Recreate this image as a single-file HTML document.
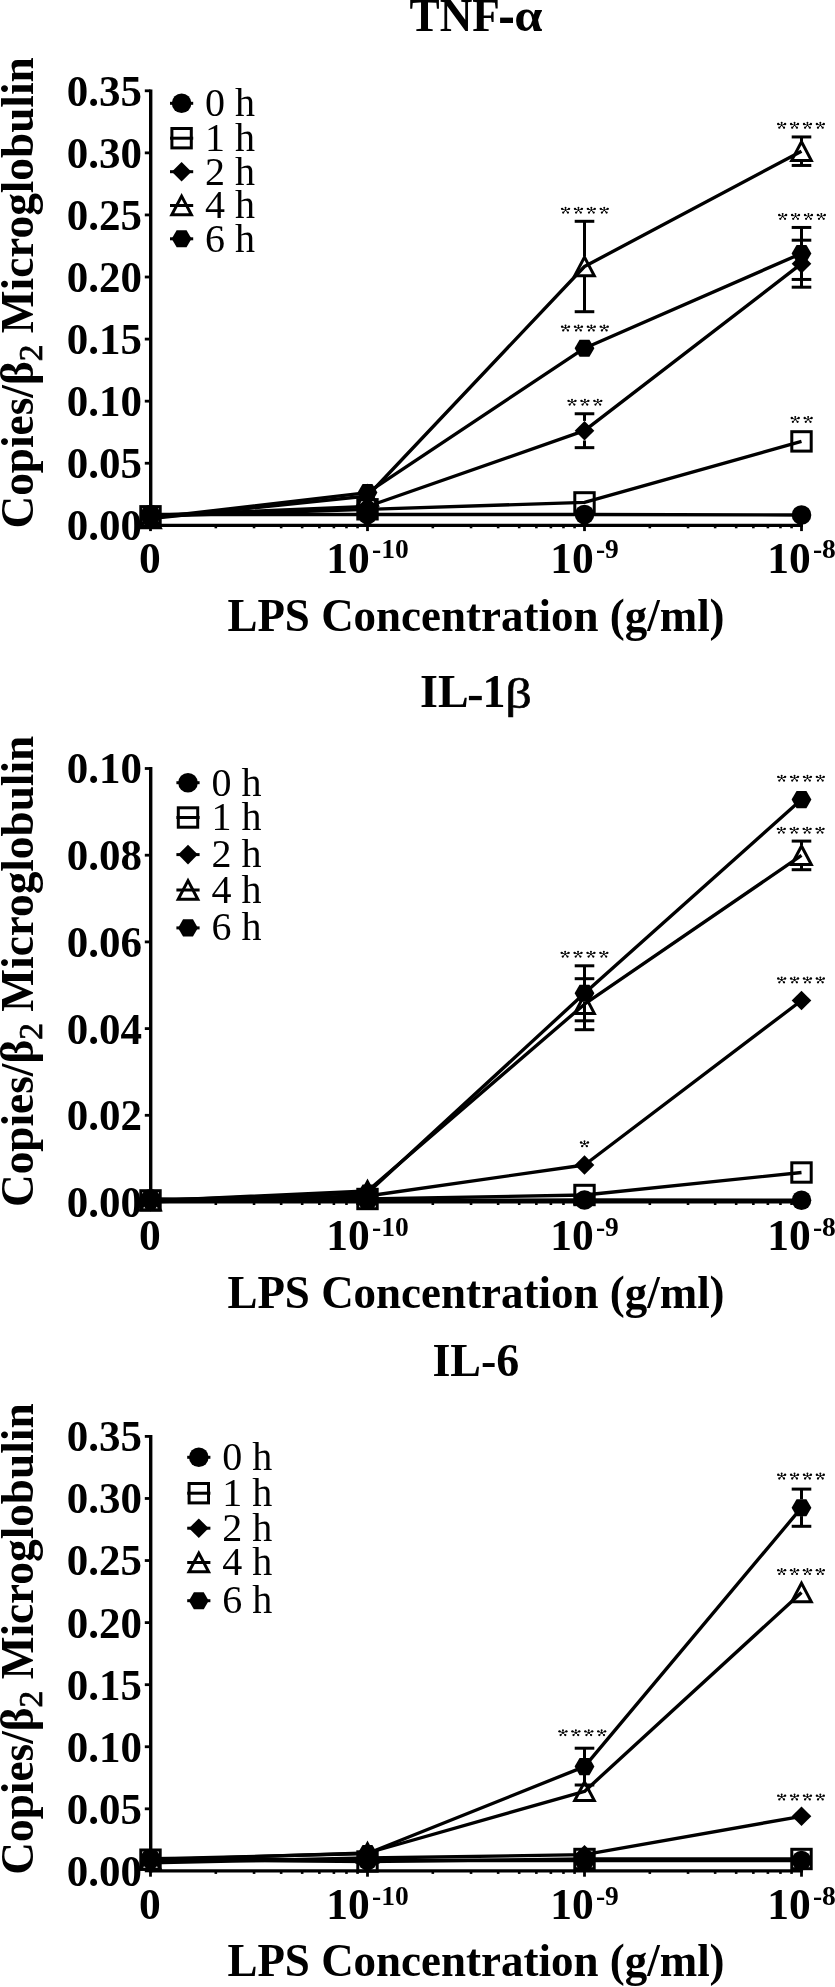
<!DOCTYPE html>
<html><head><meta charset="utf-8"><style>
html,body{margin:0;padding:0;background:#fff;}
svg{display:block;will-change:transform;}
text{font-family:'Liberation Serif',serif;fill:#000;}
</style></head><body>
<svg width="835" height="1987" viewBox="0 0 835 1987">
<defs><g id="ast" stroke="#000" stroke-width="0.95" fill="#000" stroke-linecap="round">
<line x1="0" y1="0.2" x2="0" y2="-2.3"/><line x1="0" y1="0.2" x2="-3.3" y2="-1.2"/><line x1="0" y1="0.2" x2="3.3" y2="-1.2"/><line x1="0" y1="0.2" x2="-2.3" y2="2.45"/><line x1="0" y1="0.2" x2="2.3" y2="2.45"/>
<circle cx="0" cy="-2.45" r="0.95" stroke="none"/><circle cx="-3.45" cy="-1.25" r="1.2" stroke="none"/><circle cx="3.45" cy="-1.25" r="1.2" stroke="none"/><circle cx="-2.35" cy="2.5" r="1.15" stroke="none"/><circle cx="2.35" cy="2.5" r="1.15" stroke="none"/>
</g></defs>
<rect width="835" height="1987" fill="#fff"/>
<line x1="150.7" y1="89.4" x2="150.7" y2="526.9" stroke="#000" stroke-width="3.4"/>
<line x1="144.8" y1="525.3" x2="150.5" y2="525.3" stroke="#000" stroke-width="2.8"/>
<text transform="translate(142 540.2) scale(1 1.05)" font-size="43" font-weight="bold" text-anchor="end">0.00</text>
<line x1="144.8" y1="463.23" x2="150.5" y2="463.23" stroke="#000" stroke-width="2.8"/>
<text transform="translate(142 478.13) scale(1 1.05)" font-size="43" font-weight="bold" text-anchor="end">0.05</text>
<line x1="144.8" y1="401.16" x2="150.5" y2="401.16" stroke="#000" stroke-width="2.8"/>
<text transform="translate(142 416.06) scale(1 1.05)" font-size="43" font-weight="bold" text-anchor="end">0.10</text>
<line x1="144.8" y1="339.09" x2="150.5" y2="339.09" stroke="#000" stroke-width="2.8"/>
<text transform="translate(142 353.99) scale(1 1.05)" font-size="43" font-weight="bold" text-anchor="end">0.15</text>
<line x1="144.8" y1="277.01" x2="150.5" y2="277.01" stroke="#000" stroke-width="2.8"/>
<text transform="translate(142 291.91) scale(1 1.05)" font-size="43" font-weight="bold" text-anchor="end">0.20</text>
<line x1="144.8" y1="214.94" x2="150.5" y2="214.94" stroke="#000" stroke-width="2.8"/>
<text transform="translate(142 229.84) scale(1 1.05)" font-size="43" font-weight="bold" text-anchor="end">0.25</text>
<line x1="144.8" y1="152.87" x2="150.5" y2="152.87" stroke="#000" stroke-width="2.8"/>
<text transform="translate(142 167.77) scale(1 1.05)" font-size="43" font-weight="bold" text-anchor="end">0.30</text>
<line x1="144.8" y1="90.8" x2="150.5" y2="90.8" stroke="#000" stroke-width="2.8"/>
<text transform="translate(142 105.7) scale(1 1.05)" font-size="43" font-weight="bold" text-anchor="end">0.35</text>
<line x1="149" y1="525.3" x2="803" y2="525.3" stroke="#000" stroke-width="3.2"/>
<line x1="150.5" y1="525.3" x2="150.5" y2="531.1" stroke="#000" stroke-width="2.8"/>
<line x1="367.5" y1="525.3" x2="367.5" y2="531.1" stroke="#000" stroke-width="2.8"/>
<line x1="584.5" y1="525.3" x2="584.5" y2="531.1" stroke="#000" stroke-width="2.8"/>
<line x1="801.5" y1="525.3" x2="801.5" y2="531.1" stroke="#000" stroke-width="2.8"/>
<line x1="215.82" y1="525.3" x2="215.82" y2="528.3" stroke="#000" stroke-width="2.6"/>
<line x1="254.04" y1="525.3" x2="254.04" y2="528.3" stroke="#000" stroke-width="2.6"/>
<line x1="281.15" y1="525.3" x2="281.15" y2="528.3" stroke="#000" stroke-width="2.6"/>
<line x1="302.18" y1="525.3" x2="302.18" y2="528.3" stroke="#000" stroke-width="2.6"/>
<line x1="319.36" y1="525.3" x2="319.36" y2="528.3" stroke="#000" stroke-width="2.6"/>
<line x1="333.89" y1="525.3" x2="333.89" y2="528.3" stroke="#000" stroke-width="2.6"/>
<line x1="346.47" y1="525.3" x2="346.47" y2="528.3" stroke="#000" stroke-width="2.6"/>
<line x1="357.57" y1="525.3" x2="357.57" y2="528.3" stroke="#000" stroke-width="2.6"/>
<line x1="432.82" y1="525.3" x2="432.82" y2="528.3" stroke="#000" stroke-width="2.6"/>
<line x1="471.04" y1="525.3" x2="471.04" y2="528.3" stroke="#000" stroke-width="2.6"/>
<line x1="498.15" y1="525.3" x2="498.15" y2="528.3" stroke="#000" stroke-width="2.6"/>
<line x1="519.18" y1="525.3" x2="519.18" y2="528.3" stroke="#000" stroke-width="2.6"/>
<line x1="536.36" y1="525.3" x2="536.36" y2="528.3" stroke="#000" stroke-width="2.6"/>
<line x1="550.89" y1="525.3" x2="550.89" y2="528.3" stroke="#000" stroke-width="2.6"/>
<line x1="563.47" y1="525.3" x2="563.47" y2="528.3" stroke="#000" stroke-width="2.6"/>
<line x1="574.57" y1="525.3" x2="574.57" y2="528.3" stroke="#000" stroke-width="2.6"/>
<line x1="649.82" y1="525.3" x2="649.82" y2="528.3" stroke="#000" stroke-width="2.6"/>
<line x1="688.04" y1="525.3" x2="688.04" y2="528.3" stroke="#000" stroke-width="2.6"/>
<line x1="715.15" y1="525.3" x2="715.15" y2="528.3" stroke="#000" stroke-width="2.6"/>
<line x1="736.18" y1="525.3" x2="736.18" y2="528.3" stroke="#000" stroke-width="2.6"/>
<line x1="753.36" y1="525.3" x2="753.36" y2="528.3" stroke="#000" stroke-width="2.6"/>
<line x1="767.89" y1="525.3" x2="767.89" y2="528.3" stroke="#000" stroke-width="2.6"/>
<line x1="780.47" y1="525.3" x2="780.47" y2="528.3" stroke="#000" stroke-width="2.6"/>
<line x1="791.57" y1="525.3" x2="791.57" y2="528.3" stroke="#000" stroke-width="2.6"/>
<text x="149.9" y="572.7" font-size="43.5" font-weight="bold" text-anchor="middle" >0</text>
<text x="367.5" y="572.7" font-size="43.5" font-weight="bold" text-anchor="middle">10<tspan dx="2.2" dy="-14.4" font-size="27.5">-10</tspan></text>
<text x="584.5" y="572.7" font-size="43.5" font-weight="bold" text-anchor="middle">10<tspan dx="2.2" dy="-14.4" font-size="27.5">-9</tspan></text>
<text x="801.5" y="572.7" font-size="43.5" font-weight="bold" text-anchor="middle">10<tspan dx="2.2" dy="-14.4" font-size="27.5">-8</tspan></text>
<text transform="translate(476.0 630.8) scale(1 1.03)" font-size="45" font-weight="bold" text-anchor="middle">LPS Concentration (g/ml)</text>
<text transform="translate(409.6 31.4) scale(0.982 1)" font-size="46" font-weight="bold">TNF</text><rect x="500.1" y="17.6" width="12.9" height="5.4" fill="#000"/><text transform="translate(514.2 31.4) scale(1.1 1)" font-size="46" font-weight="bold">α</text>
<text transform="translate(32.9 292.9) rotate(-90) scale(1 1.035)" x="0" y="0" font-size="45.3" font-weight="bold" text-anchor="middle">Copies/β<tspan font-weight="normal" font-size="33.5" dy="9.2" stroke="#000" stroke-width="0.7">2</tspan><tspan dy="-9.2"> Microglobulin</tspan></text>
<polyline points="150.5,514.5 367.5,514.5 584.5,514.5 801.5,515" fill="none" stroke="#000" stroke-width="3.35" stroke-linejoin="round"/>
<polyline points="150.5,516.3 367.5,509.3 584.5,502.4 801.5,441.4" fill="none" stroke="#000" stroke-width="3.35" stroke-linejoin="round"/>
<polyline points="150.5,515.5 367.5,506.5 584.5,430.7 801.5,263.7" fill="none" stroke="#000" stroke-width="3.35" stroke-linejoin="round"/>
<polyline points="150.5,518.6 367.5,496 584.5,266.5 801.5,151.2" fill="none" stroke="#000" stroke-width="3.35" stroke-linejoin="round"/>
<polyline points="150.5,518 367.5,492.6 584.5,348.2 801.5,253.45" fill="none" stroke="#000" stroke-width="3.35" stroke-linejoin="round"/>
<line x1="584.5" y1="413.75" x2="584.5" y2="420.9" stroke="#000" stroke-width="3.0"/>
<line x1="584.5" y1="440.5" x2="584.5" y2="447.65" stroke="#000" stroke-width="3.0"/>
<line x1="574.7" y1="413.75" x2="594.3" y2="413.75" stroke="#000" stroke-width="3.0"/>
<line x1="574.7" y1="447.65" x2="594.3" y2="447.65" stroke="#000" stroke-width="3.0"/>
<line x1="801.5" y1="240.2" x2="801.5" y2="253.9" stroke="#000" stroke-width="3.0"/>
<line x1="801.5" y1="273.5" x2="801.5" y2="287.2" stroke="#000" stroke-width="3.0"/>
<line x1="791.7" y1="240.2" x2="811.3" y2="240.2" stroke="#000" stroke-width="3.0"/>
<line x1="791.7" y1="287.2" x2="811.3" y2="287.2" stroke="#000" stroke-width="3.0"/>
<line x1="584.5" y1="221.3" x2="584.5" y2="256.5" stroke="#000" stroke-width="3.0"/>
<line x1="584.5" y1="276.5" x2="584.5" y2="311.7" stroke="#000" stroke-width="3.0"/>
<line x1="574.7" y1="221.3" x2="594.3" y2="221.3" stroke="#000" stroke-width="3.0"/>
<line x1="574.7" y1="311.7" x2="594.3" y2="311.7" stroke="#000" stroke-width="3.0"/>
<line x1="801.5" y1="136.95" x2="801.5" y2="141.2" stroke="#000" stroke-width="3.0"/>
<line x1="801.5" y1="161.2" x2="801.5" y2="165.45" stroke="#000" stroke-width="3.0"/>
<line x1="791.7" y1="136.95" x2="811.3" y2="136.95" stroke="#000" stroke-width="3.0"/>
<line x1="791.7" y1="165.45" x2="811.3" y2="165.45" stroke="#000" stroke-width="3.0"/>
<line x1="801.5" y1="227.45" x2="801.5" y2="245.05" stroke="#000" stroke-width="3.0"/>
<line x1="801.5" y1="261.85" x2="801.5" y2="279.45" stroke="#000" stroke-width="3.0"/>
<line x1="791.7" y1="227.45" x2="811.3" y2="227.45" stroke="#000" stroke-width="3.0"/>
<line x1="791.7" y1="279.45" x2="811.3" y2="279.45" stroke="#000" stroke-width="3.0"/>
<circle cx="150.5" cy="514.5" r="9.8" fill="#000"/>
<circle cx="367.5" cy="514.5" r="9.8" fill="#000"/>
<circle cx="584.5" cy="514.5" r="9.8" fill="#000"/>
<circle cx="801.5" cy="515" r="9.8" fill="#000"/>
<rect x="140.8" y="506.6" width="19.4" height="19.4" fill="none" stroke="#000" stroke-width="3.0"/>
<rect x="357.8" y="499.6" width="19.4" height="19.4" fill="none" stroke="#000" stroke-width="3.0"/>
<rect x="574.8" y="492.7" width="19.4" height="19.4" fill="none" stroke="#000" stroke-width="3.0"/>
<rect x="791.8" y="431.7" width="19.4" height="19.4" fill="none" stroke="#000" stroke-width="3.0"/>
<path d="M150.5 505.7L160.3 515.5L150.5 525.3L140.7 515.5Z" fill="#000"/>
<path d="M367.5 496.7L377.3 506.5L367.5 516.3L357.7 506.5Z" fill="#000"/>
<path d="M584.5 420.9L594.3 430.7L584.5 440.5L574.7 430.7Z" fill="#000"/>
<path d="M801.5 253.9L811.3 263.7L801.5 273.5L791.7 263.7Z" fill="#000"/>
<path d="M150.5 509.2L160.3 527.8L140.7 527.8Z" fill="none" stroke="#000" stroke-width="3.0" stroke-linejoin="miter" stroke-miterlimit="10"/>
<path d="M367.5 486.6L377.3 505.2L357.7 505.2Z" fill="none" stroke="#000" stroke-width="3.0" stroke-linejoin="miter" stroke-miterlimit="10"/>
<path d="M584.5 257.1L594.3 275.7L574.7 275.7Z" fill="none" stroke="#000" stroke-width="3.0" stroke-linejoin="miter" stroke-miterlimit="10"/>
<path d="M801.5 141.8L811.3 160.4L791.7 160.4Z" fill="none" stroke="#000" stroke-width="3.0" stroke-linejoin="miter" stroke-miterlimit="10"/>
<path d="M140.6 518L145.55 509.43L155.45 509.43L160.4 518L155.45 526.57L145.55 526.57Z" fill="#000"/>
<path d="M357.6 492.6L362.55 484.03L372.45 484.03L377.4 492.6L372.45 501.17L362.55 501.17Z" fill="#000"/>
<path d="M574.6 348.2L579.55 339.63L589.45 339.63L594.4 348.2L589.45 356.77L579.55 356.77Z" fill="#000"/>
<path d="M791.6 253.45L796.55 244.88L806.45 244.88L811.4 253.45L806.45 262.02L796.55 262.02Z" fill="#000"/>
<use href="#ast" x="565.55" y="210.1"/>
<use href="#ast" x="578.45" y="210.1"/>
<use href="#ast" x="591.35" y="210.1"/>
<use href="#ast" x="604.25" y="210.1"/>
<use href="#ast" x="565.55" y="327.9"/>
<use href="#ast" x="578.45" y="327.9"/>
<use href="#ast" x="591.35" y="327.9"/>
<use href="#ast" x="604.25" y="327.9"/>
<use href="#ast" x="572" y="402.1"/>
<use href="#ast" x="584.9" y="402.1"/>
<use href="#ast" x="597.8" y="402.1"/>
<use href="#ast" x="781.65" y="125.2"/>
<use href="#ast" x="794.55" y="125.2"/>
<use href="#ast" x="807.45" y="125.2"/>
<use href="#ast" x="820.35" y="125.2"/>
<use href="#ast" x="782.65" y="216.3"/>
<use href="#ast" x="795.55" y="216.3"/>
<use href="#ast" x="808.45" y="216.3"/>
<use href="#ast" x="821.35" y="216.3"/>
<use href="#ast" x="795.25" y="419.3"/>
<use href="#ast" x="808.15" y="419.3"/>
<line x1="170" y1="103.3" x2="193.2" y2="103.3" stroke="#000" stroke-width="3.0"/>
<circle cx="181.6" cy="103.3" r="9.8" fill="#000"/>
<text x="205.1" y="115.9" font-size="40" font-weight="normal" text-anchor="start" >0 h</text>
<line x1="170" y1="138.2" x2="193.2" y2="138.2" stroke="#000" stroke-width="3.0"/>
<rect x="171.9" y="128.5" width="19.4" height="19.4" fill="none" stroke="#000" stroke-width="3.0"/>
<text x="205.1" y="150.7" font-size="40" font-weight="normal" text-anchor="start" >1 h</text>
<line x1="170" y1="171.7" x2="193.2" y2="171.7" stroke="#000" stroke-width="3.0"/>
<path d="M181.6 161.9L191.4 171.7L181.6 181.5L171.8 171.7Z" fill="#000"/>
<text x="205.1" y="184.6" font-size="40" font-weight="normal" text-anchor="start" >2 h</text>
<line x1="170" y1="205.5" x2="193.2" y2="205.5" stroke="#000" stroke-width="3.0"/>
<path d="M181.6 196.1L191.4 214.7L171.8 214.7Z" fill="none" stroke="#000" stroke-width="3.0" stroke-linejoin="miter" stroke-miterlimit="10"/>
<text x="205.1" y="218" font-size="40" font-weight="normal" text-anchor="start" >4 h</text>
<line x1="170" y1="238.8" x2="193.2" y2="238.8" stroke="#000" stroke-width="3.0"/>
<path d="M171.7 238.8L176.65 230.23L186.55 230.23L191.5 238.8L186.55 247.37L176.65 247.37Z" fill="#000"/>
<text x="205.1" y="251.7" font-size="40" font-weight="normal" text-anchor="start" >6 h</text>
<line x1="150.7" y1="767.1" x2="150.7" y2="1203.6" stroke="#000" stroke-width="3.4"/>
<line x1="144.8" y1="1202" x2="150.5" y2="1202" stroke="#000" stroke-width="2.8"/>
<text transform="translate(142 1216.9) scale(1 1.05)" font-size="43" font-weight="bold" text-anchor="end">0.00</text>
<line x1="144.8" y1="1115.3" x2="150.5" y2="1115.3" stroke="#000" stroke-width="2.8"/>
<text transform="translate(142 1130.2) scale(1 1.05)" font-size="43" font-weight="bold" text-anchor="end">0.02</text>
<line x1="144.8" y1="1028.6" x2="150.5" y2="1028.6" stroke="#000" stroke-width="2.8"/>
<text transform="translate(142 1043.5) scale(1 1.05)" font-size="43" font-weight="bold" text-anchor="end">0.04</text>
<line x1="144.8" y1="941.9" x2="150.5" y2="941.9" stroke="#000" stroke-width="2.8"/>
<text transform="translate(142 956.8) scale(1 1.05)" font-size="43" font-weight="bold" text-anchor="end">0.06</text>
<line x1="144.8" y1="855.2" x2="150.5" y2="855.2" stroke="#000" stroke-width="2.8"/>
<text transform="translate(142 870.1) scale(1 1.05)" font-size="43" font-weight="bold" text-anchor="end">0.08</text>
<line x1="144.8" y1="768.5" x2="150.5" y2="768.5" stroke="#000" stroke-width="2.8"/>
<text transform="translate(142 783.4) scale(1 1.05)" font-size="43" font-weight="bold" text-anchor="end">0.10</text>
<line x1="149" y1="1202" x2="803" y2="1202" stroke="#000" stroke-width="3.2"/>
<line x1="150.5" y1="1202" x2="150.5" y2="1207.8" stroke="#000" stroke-width="2.8"/>
<line x1="367.5" y1="1202" x2="367.5" y2="1207.8" stroke="#000" stroke-width="2.8"/>
<line x1="584.5" y1="1202" x2="584.5" y2="1207.8" stroke="#000" stroke-width="2.8"/>
<line x1="801.5" y1="1202" x2="801.5" y2="1207.8" stroke="#000" stroke-width="2.8"/>
<line x1="215.82" y1="1202" x2="215.82" y2="1205" stroke="#000" stroke-width="2.6"/>
<line x1="254.04" y1="1202" x2="254.04" y2="1205" stroke="#000" stroke-width="2.6"/>
<line x1="281.15" y1="1202" x2="281.15" y2="1205" stroke="#000" stroke-width="2.6"/>
<line x1="302.18" y1="1202" x2="302.18" y2="1205" stroke="#000" stroke-width="2.6"/>
<line x1="319.36" y1="1202" x2="319.36" y2="1205" stroke="#000" stroke-width="2.6"/>
<line x1="333.89" y1="1202" x2="333.89" y2="1205" stroke="#000" stroke-width="2.6"/>
<line x1="346.47" y1="1202" x2="346.47" y2="1205" stroke="#000" stroke-width="2.6"/>
<line x1="357.57" y1="1202" x2="357.57" y2="1205" stroke="#000" stroke-width="2.6"/>
<line x1="432.82" y1="1202" x2="432.82" y2="1205" stroke="#000" stroke-width="2.6"/>
<line x1="471.04" y1="1202" x2="471.04" y2="1205" stroke="#000" stroke-width="2.6"/>
<line x1="498.15" y1="1202" x2="498.15" y2="1205" stroke="#000" stroke-width="2.6"/>
<line x1="519.18" y1="1202" x2="519.18" y2="1205" stroke="#000" stroke-width="2.6"/>
<line x1="536.36" y1="1202" x2="536.36" y2="1205" stroke="#000" stroke-width="2.6"/>
<line x1="550.89" y1="1202" x2="550.89" y2="1205" stroke="#000" stroke-width="2.6"/>
<line x1="563.47" y1="1202" x2="563.47" y2="1205" stroke="#000" stroke-width="2.6"/>
<line x1="574.57" y1="1202" x2="574.57" y2="1205" stroke="#000" stroke-width="2.6"/>
<line x1="649.82" y1="1202" x2="649.82" y2="1205" stroke="#000" stroke-width="2.6"/>
<line x1="688.04" y1="1202" x2="688.04" y2="1205" stroke="#000" stroke-width="2.6"/>
<line x1="715.15" y1="1202" x2="715.15" y2="1205" stroke="#000" stroke-width="2.6"/>
<line x1="736.18" y1="1202" x2="736.18" y2="1205" stroke="#000" stroke-width="2.6"/>
<line x1="753.36" y1="1202" x2="753.36" y2="1205" stroke="#000" stroke-width="2.6"/>
<line x1="767.89" y1="1202" x2="767.89" y2="1205" stroke="#000" stroke-width="2.6"/>
<line x1="780.47" y1="1202" x2="780.47" y2="1205" stroke="#000" stroke-width="2.6"/>
<line x1="791.57" y1="1202" x2="791.57" y2="1205" stroke="#000" stroke-width="2.6"/>
<text x="149.9" y="1250.2" font-size="43.5" font-weight="bold" text-anchor="middle" >0</text>
<text x="367.5" y="1250.2" font-size="43.5" font-weight="bold" text-anchor="middle">10<tspan dx="2.2" dy="-14.4" font-size="27.5">-10</tspan></text>
<text x="584.5" y="1250.2" font-size="43.5" font-weight="bold" text-anchor="middle">10<tspan dx="2.2" dy="-14.4" font-size="27.5">-9</tspan></text>
<text x="801.5" y="1250.2" font-size="43.5" font-weight="bold" text-anchor="middle">10<tspan dx="2.2" dy="-14.4" font-size="27.5">-8</tspan></text>
<text transform="translate(476.0 1307.5) scale(1 1.03)" font-size="45" font-weight="bold" text-anchor="middle">LPS Concentration (g/ml)</text>
<text x="420.1" y="707.4" font-size="46" font-weight="bold">IL</text><rect x="468.9" y="695.9" width="12.9" height="4.3" fill="#000"/><text x="482.5" y="707.4" font-size="46" font-weight="bold">1</text><text transform="translate(505.25 708.2) scale(1.14 0.93)" font-size="46" font-weight="normal" stroke="#000" stroke-width="0.6">β</text>
<text transform="translate(32.9 971.4) rotate(-90) scale(1 1.035)" x="0" y="0" font-size="45.3" font-weight="bold" text-anchor="middle">Copies/β<tspan font-weight="normal" font-size="33.5" dy="9.2" stroke="#000" stroke-width="0.7">2</tspan><tspan dy="-9.2"> Microglobulin</tspan></text>
<polyline points="150.5,1198.8 367.5,1200.3 584.5,1200 801.5,1200.2" fill="none" stroke="#000" stroke-width="3.35" stroke-linejoin="round"/>
<polyline points="150.5,1200.4 367.5,1199 584.5,1195 801.5,1172.5" fill="none" stroke="#000" stroke-width="3.35" stroke-linejoin="round"/>
<polyline points="150.5,1201.8 367.5,1196 584.5,1165 801.5,1000.5" fill="none" stroke="#000" stroke-width="3.35" stroke-linejoin="round"/>
<polyline points="150.5,1200.8 367.5,1191 584.5,1004.2 801.5,855.4" fill="none" stroke="#000" stroke-width="3.35" stroke-linejoin="round"/>
<polyline points="150.5,1200.5 367.5,1193 584.5,993.3 801.5,799.6" fill="none" stroke="#000" stroke-width="3.35" stroke-linejoin="round"/>
<line x1="584.5" y1="978.7" x2="584.5" y2="994.2" stroke="#000" stroke-width="3.0"/>
<line x1="584.5" y1="1014.2" x2="584.5" y2="1029.7" stroke="#000" stroke-width="3.0"/>
<line x1="574.7" y1="978.7" x2="594.3" y2="978.7" stroke="#000" stroke-width="3.0"/>
<line x1="574.7" y1="1029.7" x2="594.3" y2="1029.7" stroke="#000" stroke-width="3.0"/>
<line x1="801.5" y1="841.1" x2="801.5" y2="845.4" stroke="#000" stroke-width="3.0"/>
<line x1="801.5" y1="865.4" x2="801.5" y2="869.7" stroke="#000" stroke-width="3.0"/>
<line x1="791.7" y1="841.1" x2="811.3" y2="841.1" stroke="#000" stroke-width="3.0"/>
<line x1="791.7" y1="869.7" x2="811.3" y2="869.7" stroke="#000" stroke-width="3.0"/>
<line x1="584.5" y1="965.8" x2="584.5" y2="984.9" stroke="#000" stroke-width="3.0"/>
<line x1="584.5" y1="1001.7" x2="584.5" y2="1020.8" stroke="#000" stroke-width="3.0"/>
<line x1="574.7" y1="965.8" x2="594.3" y2="965.8" stroke="#000" stroke-width="3.0"/>
<line x1="574.7" y1="1020.8" x2="594.3" y2="1020.8" stroke="#000" stroke-width="3.0"/>
<circle cx="150.5" cy="1198.8" r="9.8" fill="#000"/>
<circle cx="367.5" cy="1200.3" r="9.8" fill="#000"/>
<circle cx="584.5" cy="1200" r="9.8" fill="#000"/>
<circle cx="801.5" cy="1200.2" r="9.8" fill="#000"/>
<rect x="140.8" y="1190.7" width="19.4" height="19.4" fill="none" stroke="#000" stroke-width="3.0"/>
<rect x="357.8" y="1189.3" width="19.4" height="19.4" fill="none" stroke="#000" stroke-width="3.0"/>
<rect x="574.8" y="1185.3" width="19.4" height="19.4" fill="none" stroke="#000" stroke-width="3.0"/>
<rect x="791.8" y="1162.8" width="19.4" height="19.4" fill="none" stroke="#000" stroke-width="3.0"/>
<path d="M150.5 1192L160.3 1201.8L150.5 1211.6L140.7 1201.8Z" fill="#000"/>
<path d="M367.5 1186.2L377.3 1196L367.5 1205.8L357.7 1196Z" fill="#000"/>
<path d="M584.5 1155.2L594.3 1165L584.5 1174.8L574.7 1165Z" fill="#000"/>
<path d="M801.5 990.7L811.3 1000.5L801.5 1010.3L791.7 1000.5Z" fill="#000"/>
<path d="M150.5 1191.4L160.3 1210L140.7 1210Z" fill="none" stroke="#000" stroke-width="3.0" stroke-linejoin="miter" stroke-miterlimit="10"/>
<path d="M367.5 1181.6L377.3 1200.2L357.7 1200.2Z" fill="none" stroke="#000" stroke-width="3.0" stroke-linejoin="miter" stroke-miterlimit="10"/>
<path d="M584.5 994.8L594.3 1013.4L574.7 1013.4Z" fill="none" stroke="#000" stroke-width="3.0" stroke-linejoin="miter" stroke-miterlimit="10"/>
<path d="M801.5 846L811.3 864.6L791.7 864.6Z" fill="none" stroke="#000" stroke-width="3.0" stroke-linejoin="miter" stroke-miterlimit="10"/>
<path d="M140.6 1200.5L145.55 1191.93L155.45 1191.93L160.4 1200.5L155.45 1209.07L145.55 1209.07Z" fill="#000"/>
<path d="M357.6 1193L362.55 1184.43L372.45 1184.43L377.4 1193L372.45 1201.57L362.55 1201.57Z" fill="#000"/>
<path d="M574.6 993.3L579.55 984.73L589.45 984.73L594.4 993.3L589.45 1001.87L579.55 1001.87Z" fill="#000"/>
<path d="M791.6 799.6L796.55 791.03L806.45 791.03L811.4 799.6L806.45 808.17L796.55 808.17Z" fill="#000"/>
<use href="#ast" x="781.65" y="778.1"/>
<use href="#ast" x="794.55" y="778.1"/>
<use href="#ast" x="807.45" y="778.1"/>
<use href="#ast" x="820.35" y="778.1"/>
<use href="#ast" x="781.35" y="830.1"/>
<use href="#ast" x="794.25" y="830.1"/>
<use href="#ast" x="807.15" y="830.1"/>
<use href="#ast" x="820.05" y="830.1"/>
<use href="#ast" x="781.65" y="979.8"/>
<use href="#ast" x="794.55" y="979.8"/>
<use href="#ast" x="807.45" y="979.8"/>
<use href="#ast" x="820.35" y="979.8"/>
<use href="#ast" x="565.15" y="954.1"/>
<use href="#ast" x="578.05" y="954.1"/>
<use href="#ast" x="590.95" y="954.1"/>
<use href="#ast" x="603.85" y="954.1"/>
<use href="#ast" x="584.5" y="1143.7"/>
<line x1="176.4" y1="782.7" x2="199.6" y2="782.7" stroke="#000" stroke-width="3.0"/>
<circle cx="188" cy="782.7" r="9.8" fill="#000"/>
<text x="211.5" y="795.6" font-size="40" font-weight="normal" text-anchor="start" >0 h</text>
<line x1="176.4" y1="817.5" x2="199.6" y2="817.5" stroke="#000" stroke-width="3.0"/>
<rect x="178.3" y="807.8" width="19.4" height="19.4" fill="none" stroke="#000" stroke-width="3.0"/>
<text x="211.5" y="830.4" font-size="40" font-weight="normal" text-anchor="start" >1 h</text>
<line x1="176.4" y1="854.6" x2="199.6" y2="854.6" stroke="#000" stroke-width="3.0"/>
<path d="M188 844.8L197.8 854.6L188 864.4L178.2 854.6Z" fill="#000"/>
<text x="211.5" y="867" font-size="40" font-weight="normal" text-anchor="start" >2 h</text>
<line x1="176.4" y1="890" x2="199.6" y2="890" stroke="#000" stroke-width="3.0"/>
<path d="M188 880.6L197.8 899.2L178.2 899.2Z" fill="none" stroke="#000" stroke-width="3.0" stroke-linejoin="miter" stroke-miterlimit="10"/>
<text x="211.5" y="902.7" font-size="40" font-weight="normal" text-anchor="start" >4 h</text>
<line x1="176.4" y1="927.9" x2="199.6" y2="927.9" stroke="#000" stroke-width="3.0"/>
<path d="M178.1 927.9L183.05 919.33L192.95 919.33L197.9 927.9L192.95 936.47L183.05 936.47Z" fill="#000"/>
<text x="211.5" y="940.4" font-size="40" font-weight="normal" text-anchor="start" >6 h</text>
<line x1="150.7" y1="1435" x2="150.7" y2="1872.5" stroke="#000" stroke-width="3.4"/>
<line x1="144.8" y1="1870.9" x2="150.5" y2="1870.9" stroke="#000" stroke-width="2.8"/>
<text transform="translate(142 1885.8) scale(1 1.05)" font-size="43" font-weight="bold" text-anchor="end">0.00</text>
<line x1="144.8" y1="1808.83" x2="150.5" y2="1808.83" stroke="#000" stroke-width="2.8"/>
<text transform="translate(142 1823.73) scale(1 1.05)" font-size="43" font-weight="bold" text-anchor="end">0.05</text>
<line x1="144.8" y1="1746.76" x2="150.5" y2="1746.76" stroke="#000" stroke-width="2.8"/>
<text transform="translate(142 1761.66) scale(1 1.05)" font-size="43" font-weight="bold" text-anchor="end">0.10</text>
<line x1="144.8" y1="1684.69" x2="150.5" y2="1684.69" stroke="#000" stroke-width="2.8"/>
<text transform="translate(142 1699.59) scale(1 1.05)" font-size="43" font-weight="bold" text-anchor="end">0.15</text>
<line x1="144.8" y1="1622.61" x2="150.5" y2="1622.61" stroke="#000" stroke-width="2.8"/>
<text transform="translate(142 1637.51) scale(1 1.05)" font-size="43" font-weight="bold" text-anchor="end">0.20</text>
<line x1="144.8" y1="1560.54" x2="150.5" y2="1560.54" stroke="#000" stroke-width="2.8"/>
<text transform="translate(142 1575.44) scale(1 1.05)" font-size="43" font-weight="bold" text-anchor="end">0.25</text>
<line x1="144.8" y1="1498.47" x2="150.5" y2="1498.47" stroke="#000" stroke-width="2.8"/>
<text transform="translate(142 1513.37) scale(1 1.05)" font-size="43" font-weight="bold" text-anchor="end">0.30</text>
<line x1="144.8" y1="1436.4" x2="150.5" y2="1436.4" stroke="#000" stroke-width="2.8"/>
<text transform="translate(142 1451.3) scale(1 1.05)" font-size="43" font-weight="bold" text-anchor="end">0.35</text>
<line x1="149" y1="1870.9" x2="803" y2="1870.9" stroke="#000" stroke-width="3.2"/>
<line x1="150.5" y1="1870.9" x2="150.5" y2="1876.7" stroke="#000" stroke-width="2.8"/>
<line x1="367.5" y1="1870.9" x2="367.5" y2="1876.7" stroke="#000" stroke-width="2.8"/>
<line x1="584.5" y1="1870.9" x2="584.5" y2="1876.7" stroke="#000" stroke-width="2.8"/>
<line x1="801.5" y1="1870.9" x2="801.5" y2="1876.7" stroke="#000" stroke-width="2.8"/>
<line x1="215.82" y1="1870.9" x2="215.82" y2="1873.9" stroke="#000" stroke-width="2.6"/>
<line x1="254.04" y1="1870.9" x2="254.04" y2="1873.9" stroke="#000" stroke-width="2.6"/>
<line x1="281.15" y1="1870.9" x2="281.15" y2="1873.9" stroke="#000" stroke-width="2.6"/>
<line x1="302.18" y1="1870.9" x2="302.18" y2="1873.9" stroke="#000" stroke-width="2.6"/>
<line x1="319.36" y1="1870.9" x2="319.36" y2="1873.9" stroke="#000" stroke-width="2.6"/>
<line x1="333.89" y1="1870.9" x2="333.89" y2="1873.9" stroke="#000" stroke-width="2.6"/>
<line x1="346.47" y1="1870.9" x2="346.47" y2="1873.9" stroke="#000" stroke-width="2.6"/>
<line x1="357.57" y1="1870.9" x2="357.57" y2="1873.9" stroke="#000" stroke-width="2.6"/>
<line x1="432.82" y1="1870.9" x2="432.82" y2="1873.9" stroke="#000" stroke-width="2.6"/>
<line x1="471.04" y1="1870.9" x2="471.04" y2="1873.9" stroke="#000" stroke-width="2.6"/>
<line x1="498.15" y1="1870.9" x2="498.15" y2="1873.9" stroke="#000" stroke-width="2.6"/>
<line x1="519.18" y1="1870.9" x2="519.18" y2="1873.9" stroke="#000" stroke-width="2.6"/>
<line x1="536.36" y1="1870.9" x2="536.36" y2="1873.9" stroke="#000" stroke-width="2.6"/>
<line x1="550.89" y1="1870.9" x2="550.89" y2="1873.9" stroke="#000" stroke-width="2.6"/>
<line x1="563.47" y1="1870.9" x2="563.47" y2="1873.9" stroke="#000" stroke-width="2.6"/>
<line x1="574.57" y1="1870.9" x2="574.57" y2="1873.9" stroke="#000" stroke-width="2.6"/>
<line x1="649.82" y1="1870.9" x2="649.82" y2="1873.9" stroke="#000" stroke-width="2.6"/>
<line x1="688.04" y1="1870.9" x2="688.04" y2="1873.9" stroke="#000" stroke-width="2.6"/>
<line x1="715.15" y1="1870.9" x2="715.15" y2="1873.9" stroke="#000" stroke-width="2.6"/>
<line x1="736.18" y1="1870.9" x2="736.18" y2="1873.9" stroke="#000" stroke-width="2.6"/>
<line x1="753.36" y1="1870.9" x2="753.36" y2="1873.9" stroke="#000" stroke-width="2.6"/>
<line x1="767.89" y1="1870.9" x2="767.89" y2="1873.9" stroke="#000" stroke-width="2.6"/>
<line x1="780.47" y1="1870.9" x2="780.47" y2="1873.9" stroke="#000" stroke-width="2.6"/>
<line x1="791.57" y1="1870.9" x2="791.57" y2="1873.9" stroke="#000" stroke-width="2.6"/>
<text x="149.9" y="1918.9" font-size="43.5" font-weight="bold" text-anchor="middle" >0</text>
<text x="367.5" y="1918.9" font-size="43.5" font-weight="bold" text-anchor="middle">10<tspan dx="2.2" dy="-14.4" font-size="27.5">-10</tspan></text>
<text x="584.5" y="1918.9" font-size="43.5" font-weight="bold" text-anchor="middle">10<tspan dx="2.2" dy="-14.4" font-size="27.5">-9</tspan></text>
<text x="801.5" y="1918.9" font-size="43.5" font-weight="bold" text-anchor="middle">10<tspan dx="2.2" dy="-14.4" font-size="27.5">-8</tspan></text>
<text transform="translate(476.0 1976.2) scale(1 1.03)" font-size="45" font-weight="bold" text-anchor="middle">LPS Concentration (g/ml)</text>
<text x="475.9" y="1375.8" font-size="46" font-weight="bold" text-anchor="middle">IL-6</text>
<text transform="translate(32.9 1639.05) rotate(-90) scale(1 1.035)" x="0" y="0" font-size="45.3" font-weight="bold" text-anchor="middle">Copies/β<tspan font-weight="normal" font-size="33.5" dy="9.2" stroke="#000" stroke-width="0.7">2</tspan><tspan dy="-9.2"> Microglobulin</tspan></text>
<polyline points="150.5,1858.5 367.5,1860.5 584.5,1860.5 801.5,1860.5" fill="none" stroke="#000" stroke-width="3.35" stroke-linejoin="round"/>
<polyline points="150.5,1859.7 367.5,1861.5 584.5,1859 801.5,1859" fill="none" stroke="#000" stroke-width="3.35" stroke-linejoin="round"/>
<polyline points="150.5,1862.8 367.5,1858 584.5,1854.7 801.5,1816.3" fill="none" stroke="#000" stroke-width="3.35" stroke-linejoin="round"/>
<polyline points="150.5,1860 367.5,1853 584.5,1791.4 801.5,1592.5" fill="none" stroke="#000" stroke-width="3.35" stroke-linejoin="round"/>
<polyline points="150.5,1859 367.5,1853.5 584.5,1766.6 801.5,1507.7" fill="none" stroke="#000" stroke-width="3.35" stroke-linejoin="round"/>
<line x1="584.5" y1="1748.2" x2="584.5" y2="1758.2" stroke="#000" stroke-width="3.0"/>
<line x1="584.5" y1="1775" x2="584.5" y2="1785" stroke="#000" stroke-width="3.0"/>
<line x1="574.7" y1="1748.2" x2="594.3" y2="1748.2" stroke="#000" stroke-width="3.0"/>
<line x1="574.7" y1="1785" x2="594.3" y2="1785" stroke="#000" stroke-width="3.0"/>
<line x1="801.5" y1="1489.1" x2="801.5" y2="1499.3" stroke="#000" stroke-width="3.0"/>
<line x1="801.5" y1="1516.1" x2="801.5" y2="1526.3" stroke="#000" stroke-width="3.0"/>
<line x1="791.7" y1="1489.1" x2="811.3" y2="1489.1" stroke="#000" stroke-width="3.0"/>
<line x1="791.7" y1="1526.3" x2="811.3" y2="1526.3" stroke="#000" stroke-width="3.0"/>
<circle cx="150.5" cy="1858.5" r="9.8" fill="#000"/>
<circle cx="367.5" cy="1860.5" r="9.8" fill="#000"/>
<circle cx="584.5" cy="1860.5" r="9.8" fill="#000"/>
<circle cx="801.5" cy="1860.5" r="9.8" fill="#000"/>
<rect x="140.8" y="1850" width="19.4" height="19.4" fill="none" stroke="#000" stroke-width="3.0"/>
<rect x="357.8" y="1851.8" width="19.4" height="19.4" fill="none" stroke="#000" stroke-width="3.0"/>
<rect x="574.8" y="1849.3" width="19.4" height="19.4" fill="none" stroke="#000" stroke-width="3.0"/>
<rect x="791.8" y="1849.3" width="19.4" height="19.4" fill="none" stroke="#000" stroke-width="3.0"/>
<path d="M150.5 1853L160.3 1862.8L150.5 1872.6L140.7 1862.8Z" fill="#000"/>
<path d="M367.5 1848.2L377.3 1858L367.5 1867.8L357.7 1858Z" fill="#000"/>
<path d="M584.5 1844.9L594.3 1854.7L584.5 1864.5L574.7 1854.7Z" fill="#000"/>
<path d="M801.5 1806.5L811.3 1816.3L801.5 1826.1L791.7 1816.3Z" fill="#000"/>
<path d="M150.5 1850.6L160.3 1869.2L140.7 1869.2Z" fill="none" stroke="#000" stroke-width="3.0" stroke-linejoin="miter" stroke-miterlimit="10"/>
<path d="M367.5 1843.6L377.3 1862.2L357.7 1862.2Z" fill="none" stroke="#000" stroke-width="3.0" stroke-linejoin="miter" stroke-miterlimit="10"/>
<path d="M584.5 1782L594.3 1800.6L574.7 1800.6Z" fill="none" stroke="#000" stroke-width="3.0" stroke-linejoin="miter" stroke-miterlimit="10"/>
<path d="M801.5 1583.1L811.3 1601.7L791.7 1601.7Z" fill="none" stroke="#000" stroke-width="3.0" stroke-linejoin="miter" stroke-miterlimit="10"/>
<path d="M140.6 1859L145.55 1850.43L155.45 1850.43L160.4 1859L155.45 1867.57L145.55 1867.57Z" fill="#000"/>
<path d="M357.6 1853.5L362.55 1844.93L372.45 1844.93L377.4 1853.5L372.45 1862.07L362.55 1862.07Z" fill="#000"/>
<path d="M574.6 1766.6L579.55 1758.03L589.45 1758.03L594.4 1766.6L589.45 1775.17L579.55 1775.17Z" fill="#000"/>
<path d="M791.6 1507.7L796.55 1499.13L806.45 1499.13L811.4 1507.7L806.45 1516.27L796.55 1516.27Z" fill="#000"/>
<use href="#ast" x="781.65" y="1476"/>
<use href="#ast" x="794.55" y="1476"/>
<use href="#ast" x="807.45" y="1476"/>
<use href="#ast" x="820.35" y="1476"/>
<use href="#ast" x="781.65" y="1571.4"/>
<use href="#ast" x="794.55" y="1571.4"/>
<use href="#ast" x="807.45" y="1571.4"/>
<use href="#ast" x="820.35" y="1571.4"/>
<use href="#ast" x="781.65" y="1796.9"/>
<use href="#ast" x="794.55" y="1796.9"/>
<use href="#ast" x="807.45" y="1796.9"/>
<use href="#ast" x="820.35" y="1796.9"/>
<use href="#ast" x="562.95" y="1732.6"/>
<use href="#ast" x="575.85" y="1732.6"/>
<use href="#ast" x="588.75" y="1732.6"/>
<use href="#ast" x="601.65" y="1732.6"/>
<line x1="187.2" y1="1457.3" x2="210.4" y2="1457.3" stroke="#000" stroke-width="3.0"/>
<circle cx="198.8" cy="1457.3" r="9.8" fill="#000"/>
<text x="222.3" y="1470.2" font-size="40" font-weight="normal" text-anchor="start" >0 h</text>
<line x1="187.2" y1="1493.2" x2="210.4" y2="1493.2" stroke="#000" stroke-width="3.0"/>
<rect x="189.1" y="1483.5" width="19.4" height="19.4" fill="none" stroke="#000" stroke-width="3.0"/>
<text x="222.3" y="1505.7" font-size="40" font-weight="normal" text-anchor="start" >1 h</text>
<line x1="187.2" y1="1528.2" x2="210.4" y2="1528.2" stroke="#000" stroke-width="3.0"/>
<path d="M198.8 1518.4L208.6 1528.2L198.8 1538L189 1528.2Z" fill="#000"/>
<text x="222.3" y="1540.7" font-size="40" font-weight="normal" text-anchor="start" >2 h</text>
<line x1="187.2" y1="1562.5" x2="210.4" y2="1562.5" stroke="#000" stroke-width="3.0"/>
<path d="M198.8 1553.1L208.6 1571.7L189 1571.7Z" fill="none" stroke="#000" stroke-width="3.0" stroke-linejoin="miter" stroke-miterlimit="10"/>
<text x="222.3" y="1575.4" font-size="40" font-weight="normal" text-anchor="start" >4 h</text>
<line x1="187.2" y1="1600.7" x2="210.4" y2="1600.7" stroke="#000" stroke-width="3.0"/>
<path d="M188.9 1600.7L193.85 1592.13L203.75 1592.13L208.7 1600.7L203.75 1609.27L193.85 1609.27Z" fill="#000"/>
<text x="222.3" y="1613.2" font-size="40" font-weight="normal" text-anchor="start" >6 h</text>
</svg>
</body></html>
